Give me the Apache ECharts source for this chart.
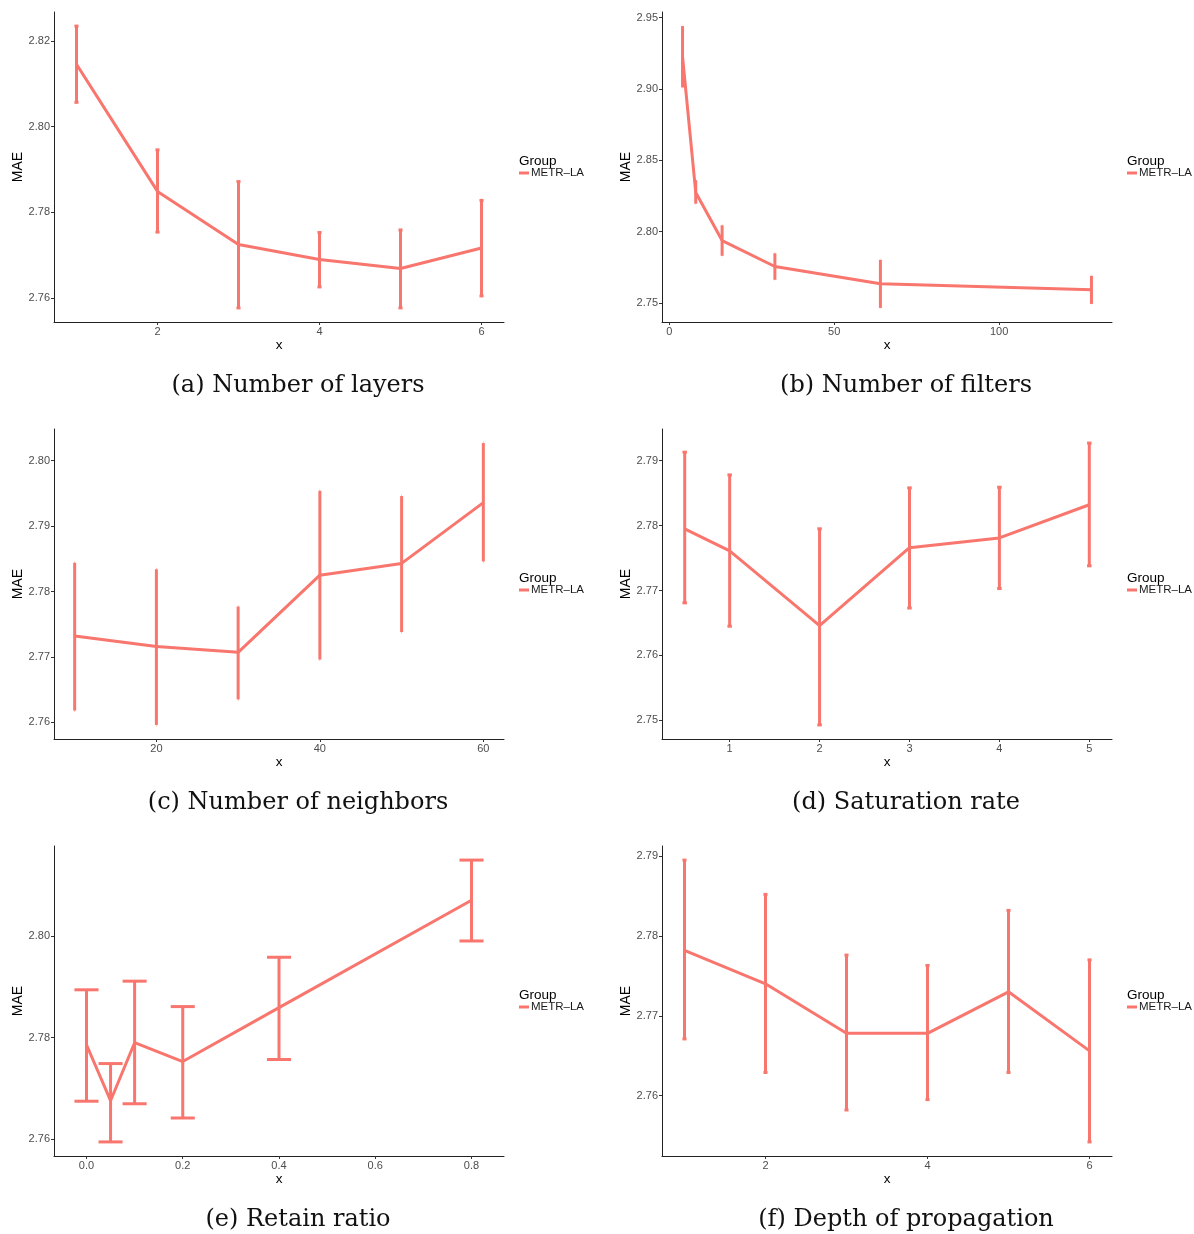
<!DOCTYPE html>
<html>
<head>
<meta charset="utf-8">
<title>MAE sensitivity panels</title>
<script src="https://cdn.jsdelivr.net/npm/echarts@6/dist/echarts.min.js"></script>
<style>
  html, body { margin: 0; padding: 0; background: #fff; }
  #chart { width: 1194px; height: 1234px; }
</style>
</head>
<body>
<div id="chart"></div>
<script>
// values (mean MAE and error bar ends)
const layersX = [1, 2, 3, 4, 5, 6];
const layersMAE = [2.8146, 2.7849, 2.7725, 2.7690, 2.7669, 2.7717];
const layersLo = [2.8057, 2.7754, 2.7577, 2.7626, 2.7577, 2.7605];
const layersHi = [2.8235, 2.7946, 2.7872, 2.7753, 2.7759, 2.7828];

const filtersX = [4, 8, 16, 32, 64, 128];
const filtersMAE = [2.9225, 2.8274, 2.7937, 2.7755, 2.7634, 2.7592];
const filtersLo = [2.9010, 2.8195, 2.7830, 2.7662, 2.7465, 2.7493];
const filtersHi = [2.9440, 2.8360, 2.8044, 2.7848, 2.7802, 2.7690];

const neighborsX = [10, 20, 30, 40, 50, 60];
const neighborsMAE = [2.7732, 2.7716, 2.7707, 2.7825, 2.7843, 2.7936];
const neighborsLo = [2.7618, 2.7596, 2.7635, 2.7696, 2.7738, 2.7846];
const neighborsHi = [2.7844, 2.7834, 2.7777, 2.7954, 2.7946, 2.8027];

const saturationX = [0.5, 1, 2, 3, 4, 5];
const saturationMAE = [2.7795, 2.7761, 2.7646, 2.7766, 2.7781, 2.7832];
const saturationLo = [2.7681, 2.7645, 2.7493, 2.7673, 2.7703, 2.7738];
const saturationHi = [2.7913, 2.7878, 2.7795, 2.7858, 2.7859, 2.7927];

const retainX = [0, 0.05, 0.1, 0.2, 0.4, 0.8];
const retainMAE = [2.7786, 2.7676, 2.7790, 2.7753, 2.7859, 2.8070];
const retainLo = [2.7675, 2.7595, 2.7670, 2.7642, 2.7757, 2.7990];
const retainHi = [2.7894, 2.7749, 2.7911, 2.7861, 2.7958, 2.8149];

const depthX = [1, 2, 3, 4, 5, 6];
const depthMAE = [2.7782, 2.7740, 2.7678, 2.7678, 2.7730, 2.7656];
const depthLo = [2.7671, 2.7629, 2.7582, 2.7595, 2.7629, 2.7542];
const depthHi = [2.7895, 2.7852, 2.7776, 2.7763, 2.7832, 2.7770];

// tick labels
const layersXTicks = [2, 4, 6];
const layersYTicks = [2.76, 2.78, 2.80, 2.82];
const filtersXTicks = [0, 50, 100];
const filtersYTicks = [2.75, 2.80, 2.85, 2.90, 2.95];
const neighborsXTicks = [20, 40, 60];
const neighborsYTicks = [2.76, 2.77, 2.78, 2.79, 2.80];
const saturationXTicks = [1, 2, 3, 4, 5];
const saturationYTicks = [2.75, 2.76, 2.77, 2.78, 2.79];
const retainXTicks = [0, 0.2, 0.4, 0.6, 0.8];
const retainYTicks = [2.76, 2.78, 2.80];
const depthXTicks = [2, 4, 6];
const depthYTicks = [2.76, 2.77, 2.78, 2.79];

const captions = [
  '(a) Number of layers', '(b) Number of filters',
  '(c) Number of neighbors', '(d) Saturation rate',
  '(e) Retain ratio', '(f) Depth of propagation'
];
const groupName = 'METR–LA';

const RED = '#F8766D';
const SANS = '"Liberation Sans", Arial, sans-serif';
const SERIF = '"DejaVu Serif", serif';
const CAP = 0.025;   // half width of the error bar caps, in x units

const panels = [
  { x: layersX, y: layersMAE, lo: layersLo, hi: layersHi, xt: layersXTicks, yt: layersYTicks, xd: 0 },
  { x: filtersX, y: filtersMAE, lo: filtersLo, hi: filtersHi, xt: filtersXTicks, yt: filtersYTicks, xd: 0 },
  { x: neighborsX, y: neighborsMAE, lo: neighborsLo, hi: neighborsHi, xt: neighborsXTicks, yt: neighborsYTicks, xd: 0 },
  { x: saturationX, y: saturationMAE, lo: saturationLo, hi: saturationHi, xt: saturationXTicks, yt: saturationYTicks, xd: 0 },
  { x: retainX, y: retainMAE, lo: retainLo, hi: retainHi, xt: retainXTicks, yt: retainYTicks, xd: 1 },
  { x: depthX, y: depthMAE, lo: depthLo, hi: depthHi, xt: depthXTicks, yt: depthYTicks, xd: 0 }
];

const colLeft = [54, 662];
const rowTop = [0, 417, 834];
const plotW = 450, plotH = 310;

// ggplot-like 5% expansion of the data range
function padRange(lo, hi) {
  const d = (hi - lo) * 0.05;
  return [lo - d, hi + d];
}

function errorBars(params, api) {
  const x = api.value(0);
  const top = api.coord([x, api.value(2)]);
  const bot = api.coord([x, api.value(1)]);
  const l = api.coord([x - CAP, 0])[0];
  const r = api.coord([x + CAP, 0])[0];
  const style = { stroke: RED, lineWidth: 3, lineCap: 'butt' };
  return {
    type: 'group',
    children: [
      { type: 'line', shape: { x1: top[0], y1: top[1], x2: bot[0], y2: bot[1] }, style: style },
      { type: 'line', shape: { x1: l, y1: top[1], x2: r, y2: top[1] }, style: style },
      { type: 'line', shape: { x1: l, y1: bot[1], x2: r, y2: bot[1] }, style: style }
    ]
  };
}

const grid = [], xAxis = [], yAxis = [], series = [], legend = [], graphic = [];

panels.forEach((p, i) => {
  const col = i % 2, row = Math.floor(i / 2);
  const left = colLeft[col], top = 12 + rowTop[row];
  grid.push({ left: left, top: top, width: plotW, height: plotH, containLabel: false });

  // the caps widen the x range, as in ggplot
  const xr = padRange(Math.min(...p.x) - CAP, Math.max(...p.x) + CAP);
  const yr = padRange(Math.min(...p.lo), Math.max(...p.hi));

  xAxis.push({
    gridIndex: i, type: 'value', min: xr[0], max: xr[1],
    name: 'x', nameLocation: 'middle', nameGap: 15,
    nameTextStyle: { fontFamily: SANS, fontSize: 13.5, color: '#000' },
    axisLine: { show: true, onZero: false, lineStyle: { color: '#222', width: 1 } },
    axisTick: { show: true, length: 3, customValues: p.xt, lineStyle: { color: '#333' } },
    axisLabel: {
      customValues: p.xt, margin: 4, fontFamily: SANS, fontSize: 11, color: '#4d4d4d',
      formatter: v => v.toFixed(p.xd)
    },
    splitLine: { show: false }
  });
  yAxis.push({
    gridIndex: i, type: 'value', min: yr[0], max: yr[1],
    name: 'MAE', nameLocation: 'middle', nameGap: 22,
    nameTextStyle: { fontFamily: SANS, fontSize: 14, color: '#000' },
    axisLine: { show: true, onZero: false, lineStyle: { color: '#222', width: 1 } },
    axisTick: { show: true, length: 3, customValues: p.yt, lineStyle: { color: '#333' } },
    axisLabel: {
      customValues: p.yt, margin: 4, fontFamily: SANS, fontSize: 11, color: '#4d4d4d',
      formatter: v => v.toFixed(2)
    },
    splitLine: { show: false }
  });

  series.push({
    name: groupName, type: 'line', xAxisIndex: i, yAxisIndex: i,
    data: p.x.map((v, k) => [v, p.y[k]]),
    showSymbol: false, symbol: 'none', silent: true,
    lineStyle: { color: RED, width: 3 }, itemStyle: { color: RED }
  });
  series.push({
    name: groupName, type: 'custom', xAxisIndex: i, yAxisIndex: i,
    data: p.x.map((v, k) => [v, p.lo[k], p.hi[k]]),
    encode: { x: 0, y: [1, 2] }, renderItem: errorBars, silent: true,
    itemStyle: { color: RED }
  });

  const lx = left + plotW + 15;
  legend.push({
    left: lx, top: 167 + rowTop[row], padding: 0, itemGap: 0,
    data: [groupName], icon: 'rect', itemWidth: 10, itemHeight: 3,
    selectedMode: false,
    itemStyle: { color: RED },
    textStyle: { fontFamily: SANS, fontSize: 11.5, color: '#1a1a1a', padding: [0, 0, 0, -3] }
  });
  graphic.push({
    type: 'text', x: lx, y: 161 + rowTop[row],
    style: { text: 'Group', fontFamily: SANS, fontSize: 13.5, fill: '#000', align: 'left', verticalAlign: 'middle' }
  });
  graphic.push({
    type: 'text', x: left + plotW / 2 + 19, y: 386 + rowTop[row],
    style: { text: captions[i], fontFamily: SERIF, fontSize: 24, fill: '#111', align: 'center', verticalAlign: 'middle' }
  });
});

const chart = echarts.init(document.getElementById('chart'), null, { renderer: 'canvas' });
chart.setOption({
  backgroundColor: '#fff',
  animation: false,
  grid: grid,
  xAxis: xAxis,
  yAxis: yAxis,
  legend: legend,
  series: series,
  graphic: graphic
});
</script>
</body>
</html>
